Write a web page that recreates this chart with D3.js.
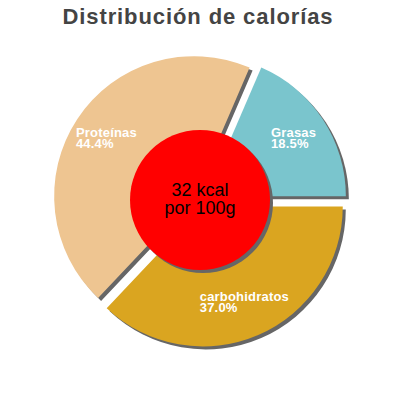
<!DOCTYPE html>
<html>
<head>
<meta charset="utf-8">
<script src="https://cdn.jsdelivr.net/npm/d3@7"></script>
<style>
  body { margin: 0; background: #fff; }
  svg { display: block; }
</style>
</head>
<body>
<svg width="400" height="400"></svg>
<script>
// datos
let categories = ['Grasas', 'carbohidratos', 'Proteínas'];
let values = [18.5, 37.0, 44.4];
let colors = ['#7AC5CD', '#DAA520', '#EEC591'];
let centerLines = ['32 kcal', 'por 100g'];
let title = 'Distribución de calorías';

let svg = d3.select('svg');
let cx = 200, cy = 200, radius = 140, explode = 7, shadowOff = 3;

svg.append('text')
   .attr('x', 198)
   .attr('y', 23.5)
   .attr('text-anchor', 'middle')
   .attr('font-family', 'Liberation Sans, Arial, sans-serif')
   .attr('font-weight', 'bold')
   .attr('font-size', 22)
   .attr('letter-spacing', 0.9)
   .attr('fill', '#444')
   .text(title);

let total = d3.sum(values);
let start = Math.PI / 2 - values[0] / total * 2 * Math.PI;

let pie = d3.pie()
            .sort(null)
            .startAngle(start)
            .endAngle(start + 2 * Math.PI);

let arcs = pie(values);

let arc = d3.arc().innerRadius(0).outerRadius(radius);
let labelArc = d3.arc().innerRadius(70).outerRadius(140);

function offset(d) {
  let a = (d.startAngle + d.endAngle) / 2;
  return [Math.sin(a) * explode, -Math.cos(a) * explode];
}

let g = svg.append('g').attr('transform', 'translate(' + cx + ',' + cy + ')');

// sombras
g.selectAll('path.shadow')
 .data(arcs)
 .enter()
 .append('path')
 .attr('class', 'shadow')
 .attr('d', arc)
 .attr('fill', '#666')
 .attr('transform', function(d) {
   let o = offset(d);
   return 'translate(' + (o[0] + shadowOff) + ',' + (o[1] + shadowOff) + ')';
 });

g.selectAll('path.slice')
 .data(arcs)
 .enter()
 .append('path')
 .attr('class', 'slice')
 .attr('d', arc)
 .attr('fill', function(d, i) { return colors[i]; })
 .attr('transform', function(d) {
   let o = offset(d);
   return 'translate(' + o[0] + ',' + o[1] + ')';
 });

// etiquetas
arcs.forEach(function(d, i) {
  let o = offset(d);
  let c = labelArc.centroid(d);
  let lg = g.append('g')
            .attr('transform', 'translate(' + (c[0] + o[0]) + ',' + (c[1] + o[1]) + ')');
  let lines = [categories[i], d3.format('.1f')(values[i]) + '%'];
  let texts = lg.selectAll('text')
                .data(lines)
                .enter()
                .append('text')
                .attr('y', function(t, j) { return j == 0 ? -1.5 : 9.5; })
                .attr('font-family', 'Liberation Sans, Arial, sans-serif')
                .attr('font-weight', 'bold')
                .attr('font-size', 13)
                .attr('letter-spacing', 0.2)
                .attr('fill', '#fff')
                .text(function(t) { return t; });
  let w = d3.max(texts.nodes(), function(n) { return n.getComputedTextLength(); });
  texts.attr('x', -w / 2);
});

// circulo central
g.append('circle')
 .attr('cx', shadowOff)
 .attr('cy', shadowOff)
 .attr('r', 70)
 .attr('fill', '#666');

g.append('circle')
 .attr('r', 70)
 .attr('fill', '#FF0000');

g.selectAll('text.center')
 .data(centerLines)
 .enter()
 .append('text')
 .attr('class', 'center')
 .attr('x', 0)
 .attr('y', function(t, j) { return j == 0 ? -4.5 : 14; })
 .attr('text-anchor', 'middle')
 .attr('font-family', 'Liberation Sans, Arial, sans-serif')
 .attr('font-size', 18)
 .attr('fill', '#000')
 .text(function(t) { return t; });
</script>
</body>
</html>
